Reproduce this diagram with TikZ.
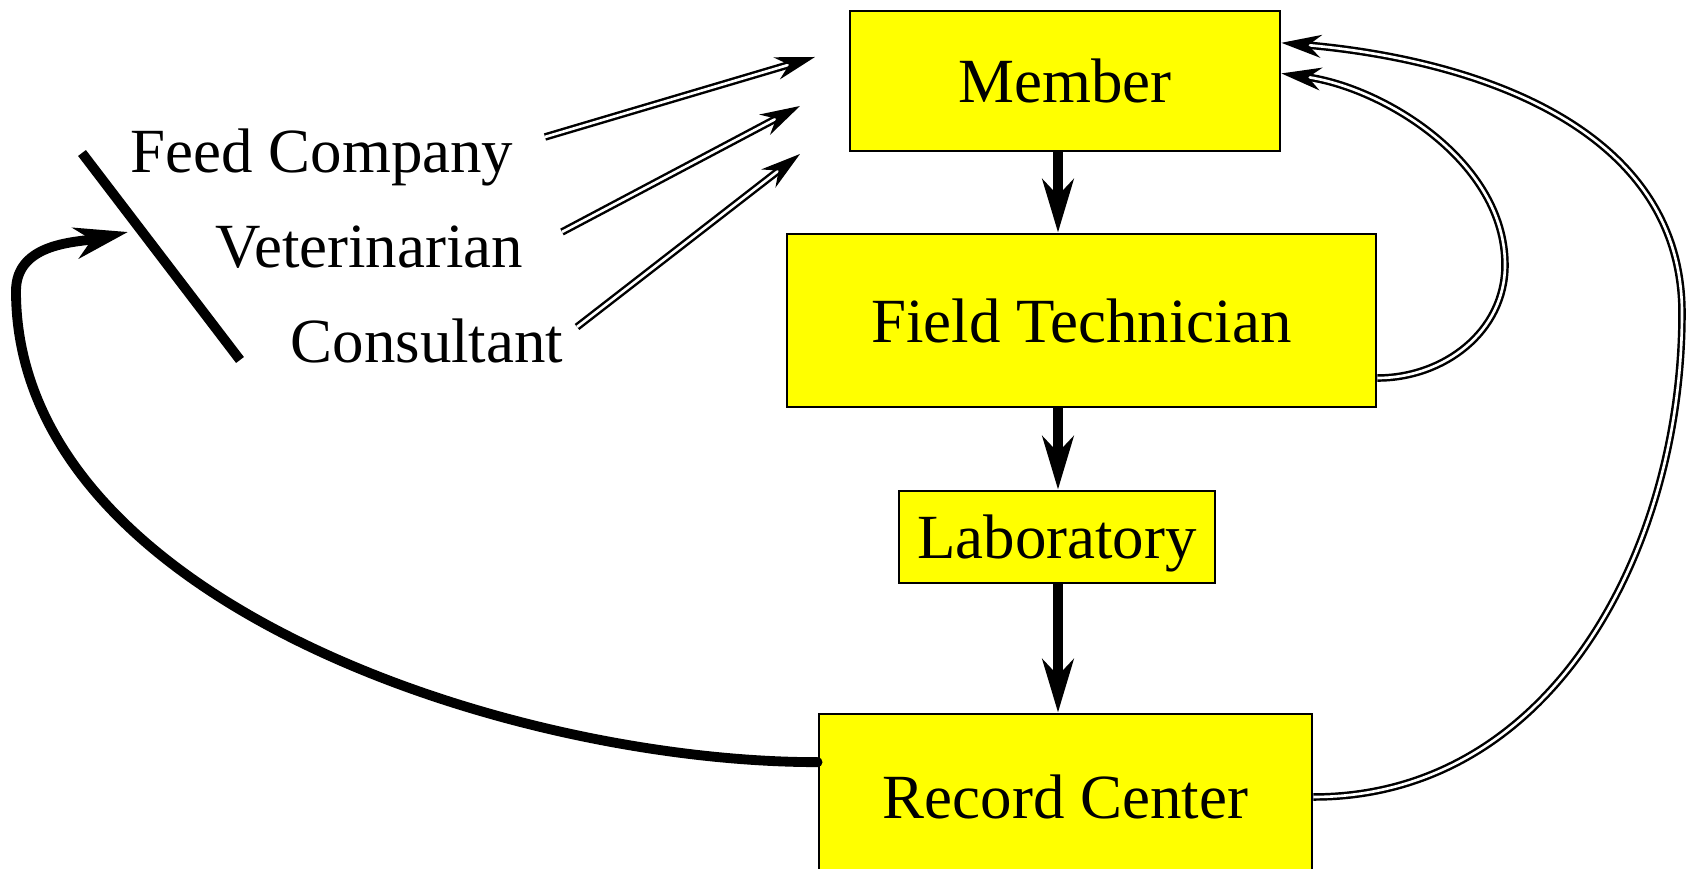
\documentclass[tikz,border=0pt]{standalone}
\usepackage{fontspec}
\setmainfont{Liberation Serif}
\usetikzlibrary{arrows.meta}
\definecolor{boxyellow}{RGB}{255,255,0}

\begin{document}
\begin{tikzpicture}[
    box/.style={draw=black,line width=0.8pt,fill=boxyellow,inner sep=0pt,text depth=0pt,font=\fontsize{17.9}{21}\selectfont},
    word/.style={inner sep=0pt,anchor=base west,font=\fontsize{17.9}{21}\selectfont},
    flow/.style={black,line width=2.8pt,-{Stealth[length=5.3mm,width=3.1mm,inset=1.6mm]}},
    advice/.style={black,line width=0.7pt,double=white,double distance=0.75pt,-{Stealth[length=4mm,width=2.3mm,inset=1.3mm]}}]

                \useasboundingbox (0,0) rectangle (16.88,8.69);

                \node[box,minimum width=4.30cm,minimum height=1.40cm] (member) at (10.65,7.88){Member};
                \node[box,minimum width=5.89cm,minimum height=1.73cm] (tech) at (10.815,5.485){Field Technician};
                \node[box,minimum width=3.16cm,minimum height=0.92cm] (lab) at (10.57,3.32){Laboratory};
                \node[box,minimum width=4.93cm,minimum height=1.66cm] (record) at (10.655,0.72){Record Center};

                \node[word] (feed) at (1.30,6.96){Feed Company};
                \node[word] (vet) at (2.15,6.01){Veterinarian};
                \node[word] (cons) at (2.90,5.06){Consultant};

                \coordinate (axis) at (10.58,0);
                \draw[flow] (member.south -| axis) -- (tech.north -| axis);
                \draw[flow] (tech.south -| axis) -- (lab.north -| axis);
                \draw[flow] (lab.south -| axis) -- (record.north -| axis);

                \coordinate (feedout) at (5.45,7.32);
                \coordinate (vetout) at (5.62,6.37);
                \coordinate (consout) at (5.77,5.42);
                \coordinate (feedin) at (8.15,8.12);
                \coordinate (vetin) at (8.00,7.63);
                \coordinate (consin) at (8.00,7.15);
                \draw[advice] (feedout) -- (feedin);
                \draw[advice] (vetout) -- (vetin);
                \draw[advice] (consout) -- (consin);

                \coordinate (techturn) at (15.05,6.04);
                \coordinate (recordturn) at (16.82,5.56);
                \draw[advice] (tech.-11) to[out=0,in=-90] (techturn) to[out=90,in=-8,looseness=0.9] (member.2);
                \draw[advice] (record.east) to[out=0,in=-90] (recordturn) to[out=90,in=-5] (member.10);

                \coordinate (bartop) at (0.82,7.16);
                \coordinate (barbot) at (2.40,5.09);
                \coordinate (bend) at (0.16,5.78);
                \coordinate (hit) at (1.28,6.37);
                \draw[black,line width=2.8pt] (bartop) -- (barbot);
                \draw[flow,line cap=round] (record.172) to[out=180,in=-90,looseness=0.85] (bend) to[out=90,in=192] (hit);

\end{tikzpicture}
\end{document}
